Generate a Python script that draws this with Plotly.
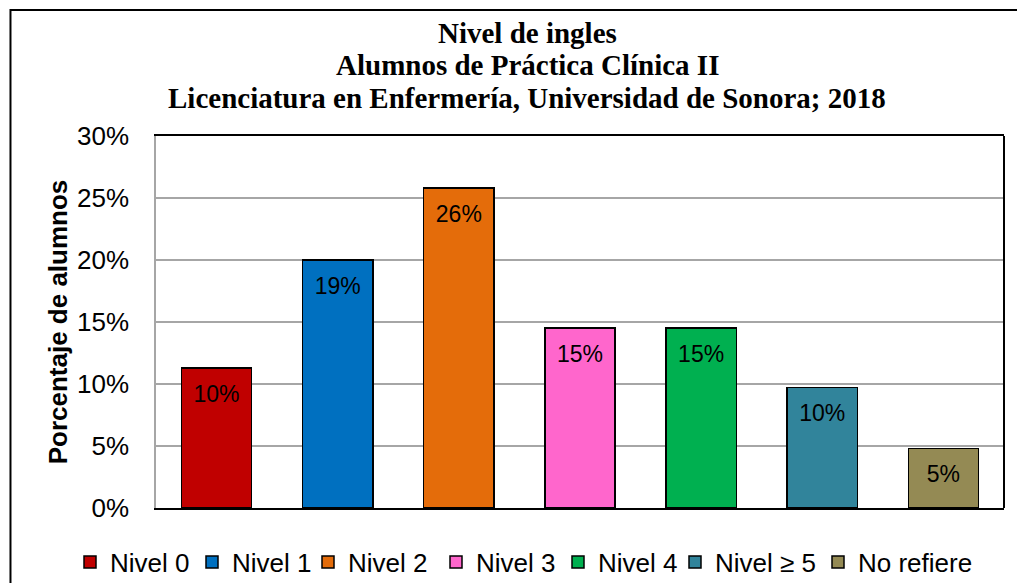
import plotly.graph_objects as go

categories = ["Nivel 0", "Nivel 1", "Nivel 2", "Nivel 3", "Nivel 4", "Nivel ≥ 5", "No refiere"]
values = [0.113, 0.200, 0.258, 0.145, 0.145, 0.097, 0.048]
labels = ["10%", "19%", "26%", "15%", "15%", "10%", "5%"]
colors = ["#C00000", "#0070C0", "#E46C0A", "#FF66CC", "#00B050", "#31849B", "#948A54"]
yticks = [0, 0.05, 0.10, 0.15, 0.20, 0.25, 0.30]
title_lines = ["Nivel de ingles", "Alumnos de Práctica Clínica II",
               "Licenciatura en Enfermería, Universidad de Sonora; 2018"]
# left edge (px) of each legend entry's swatch
legend_px = [85, 207, 323, 451, 573, 690, 833]

ARIAL = "Arial, Liberation Sans, sans-serif"
SERIF = "Times New Roman, Liberation Serif, serif"
W, H = 1017, 583

fig = go.Figure()
legends = {}
for i, (c, v, col) in enumerate(zip(categories, values, colors)):
    lname = "legend" if i == 0 else f"legend{i + 1}"
    fig.add_trace(go.Bar(
        x=[c], y=[v], name=c, legend=lname,
        marker=dict(color=col, line=dict(color="black", width=1.5)),
        hoverinfo="skip",
    ))
    legends[lname] = dict(
        orientation="h", xref="container", yref="container",
        x=(legend_px[i] - 15) / W, xanchor="left",
        y=(H - 562) / H, yanchor="middle",
        font=dict(family=ARIAL, size=26, color="black"),
        itemwidth=30, bgcolor="rgba(0,0,0,0)",
    )

# data labels placed just below the top of each bar
label_offset = 0.0225
fig.add_trace(go.Scatter(
    x=categories, y=[v - label_offset for v in values], text=labels,
    mode="text", textposition="middle center", showlegend=False,
    textfont=dict(family=ARIAL, size=23, color="black"), hoverinfo="skip",
))

annotations = []
for i, line in enumerate(title_lines):
    annotations.append(dict(
        text=f"<b>{line}</b>", xref="paper", yref="paper",
        x=0.4375, y=[1.2769, 1.1909, 1.1022][i], xanchor="center", yanchor="middle",
        showarrow=False, font=dict(family=SERIF, size=29, color="black"),
    ))

fig.update_layout(
    width=W, height=H,
    barmode="stack", bargap=0.42,
    plot_bgcolor="white", paper_bgcolor="white",
    margin=dict(l=156, r=13, t=136, b=75, autoexpand=False),
    showlegend=True,
    annotations=annotations,
    xaxis=dict(showticklabels=False, showline=True, linecolor="black", linewidth=2,
               mirror=True, ticks="", automargin=False),
    yaxis=dict(range=[0, 0.30], tickvals=yticks, tickformat=".0%",
               showgrid=True, gridcolor="#A6A6A6", gridwidth=1.5,
               showline=True, linecolor="#A6A6A6", linewidth=1.5,
               ticklabelstandoff=20, automargin=False,
               tickfont=dict(family=ARIAL, size=26, color="black"),
               title=dict(text="<b>Porcentaje de alumnos</b>", standoff=2,
                          font=dict(family=ARIAL, size=26, color="black")),
               zeroline=False),
    shapes=[
        dict(type="line", xref="paper", yref="paper", x0=1, x1=1, y0=0, y1=1,
             line=dict(color="black", width=2)),
        dict(type="rect", xref="paper", yref="paper", x0=-0.1716, x1=1.03, y0=-0.25, y1=1.3387,
             line=dict(color="black", width=2), fillcolor="rgba(0,0,0,0)"),
    ],
    **legends,
)

fig.write_html("out.html", config={"displayModeBar": False},
               post_script="document.body.style.margin='0';document.body.style.overflow='hidden';")
